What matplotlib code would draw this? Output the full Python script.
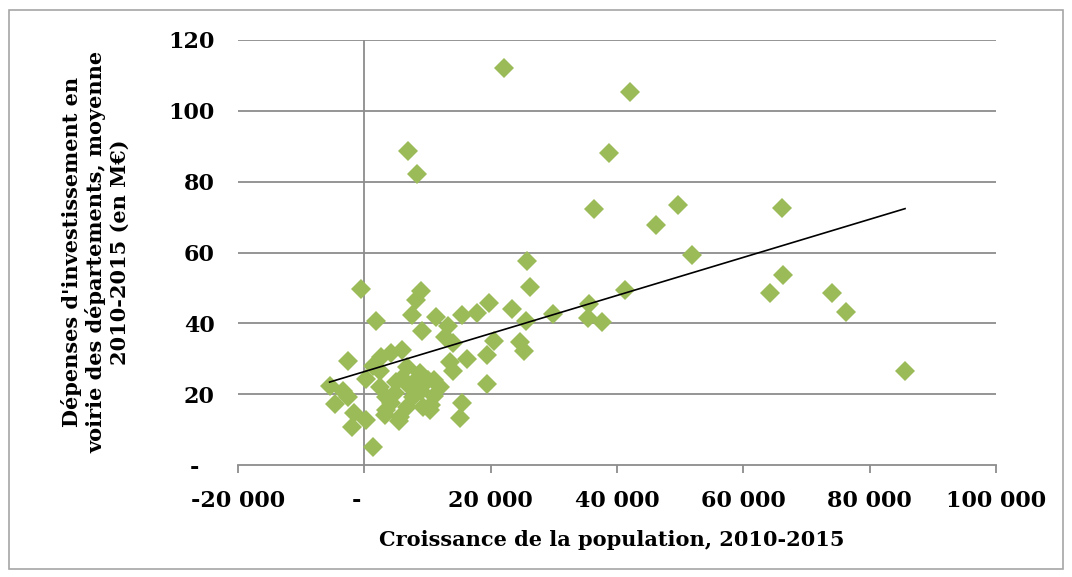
import numpy as np
import matplotlib

matplotlib.use("Agg")
import matplotlib.pyplot as plt
from matplotlib.patches import Rectangle

# population growth 2010-2015 (thousands) and road investment (M EUR)
pop_growth_k = [
    22.1, 42.0, 38.8, 6.9, 8.4, 36.3, 49.7, 46.1, 66.2, 51.9,
    66.3, 64.2, 74.1, 76.2, 85.6, 25.8, 26.3, 19.7, 23.3, 29.8,
    35.6, 41.3, 25.6, 35.4, 37.7, 20.6, 24.7, 25.3, 19.4, 19.4,
    17.9, -0.5, 1.8, -2.6, 9.0, 8.2, 7.5, 11.4, 15.4, 13.3,
    9.2, 12.7, 14.0, 16.3, 13.5, 14.0, 15.4, 15.1, -5.5, -3.3,
    -4.7, -2.6, -1.7, 0.2, -2.0, 1.4, 0.3, 2.7, 4.3, 5.9,
    1.4, 3.5, 5.6, 7.2, 8.8, 11.1, 11.1, 9.3, 10.4, 3.5,
    6.7, 4.8, 7.7, 8.2, 6.7, 10.1, 10.6, 4.3, 3.2, 5.5,
    6.0, 2.5, 12.0, 9.0, 5.0, 2.5,
]
invest = [
    112.2, 105.3, 88.2, 88.7, 82.2, 72.2, 73.3, 67.8, 72.5, 59.3,
    53.6, 48.6, 48.5, 43.3, 26.5, 57.7, 50.3, 45.8, 44.0, 42.5,
    45.6, 49.4, 40.7, 41.4, 40.5, 35.0, 34.6, 32.2, 31.0, 22.9,
    42.9, 49.7, 40.6, 29.4, 49.0, 46.7, 42.3, 41.9, 42.3, 39.3,
    37.8, 36.2, 34.5, 29.8, 29.0, 26.5, 17.6, 13.3, 22.3, 20.8,
    17.1, 19.3, 14.6, 12.7, 10.8, 5.0, 24.2, 30.6, 31.5, 32.5,
    28.0, 19.3, 13.6, 22.1, 25.9, 24.0, 19.5, 16.5, 15.5, 15.5,
    16.5, 20.2, 19.3, 24.0, 27.8, 24.0, 17.0, 17.4, 14.1, 12.5,
    24.5, 26.5, 22.0, 21.0, 23.5, 22.0,
]

x_ticks = [-20000, 0, 20000, 40000, 60000, 80000, 100000]
x_labels = ["-20 000", "-  ", "20 000", "40 000", "60 000", "80 000", "100 000"]
y_ticks = [0, 20, 40, 60, 80, 100, 120]
y_labels = ["-  ", "20", "40", "60", "80", "100", "120"]

x = np.array(pop_growth_k) * 1000
y = np.array(invest)

W, H = 1072, 577
fig = plt.figure(figsize=(W / 100, H / 100), dpi=100)
ax = fig.add_axes([238 / W, 1 - 465 / H, (996 - 238) / W, (465 - 40) / H])

grid_c = "#8c8c8c"
green = "#9bbb59"

for v in y_ticks[1:]:
    ax.axhline(v, color=grid_c, lw=1.3, zorder=1)
ax.axvline(0, color=grid_c, lw=1.3, zorder=1)

ax.plot(x, y, linestyle="none", marker="D", markersize=10,
        markerfacecolor=green, markeredgewidth=0, zorder=3)

# linear trend line
slope, inter = np.polyfit(x, y, 1)
xs = np.array([x.min(), x.max()])
ax.plot(xs, slope * xs + inter, color="black", lw=1.2, zorder=4)

ax.set_xlim(-20000, 100000)
ax.set_ylim(0, 120)

for s in ["top", "right", "left"]:
    ax.spines[s].set_visible(False)
ax.spines["bottom"].set_color(grid_c)
ax.spines["bottom"].set_linewidth(1.3)

tick_font = dict(family="DejaVu Serif", weight="bold", size=16)
ax.set_xticks(x_ticks)
ax.set_xticklabels(x_labels, **tick_font)
ax.set_yticks(y_ticks)
ax.set_yticklabels(y_labels, **tick_font)
ax.tick_params(axis="x", direction="out", length=6, width=1.3, color=grid_c, pad=12)
ax.tick_params(axis="y", length=0, pad=17)

title_font = dict(family="DejaVu Serif", weight="bold", size=15)
fig.text(612 / W, 1 - 540 / H, "Croissance de la population, 2010-2015",
         ha="center", va="center", **title_font)
fig.text(95 / W, 1 - 252 / H,
         "Dépenses d'investissement en\nvoirie des départements, moyenne\n2010-2015 (en M€)",
         ha="center", va="center", rotation=90, linespacing=1.2, **title_font)

fig.patches.append(Rectangle((9 / W, 1 - 569 / H), (1063 - 9) / W, (569 - 10) / H,
                             transform=fig.transFigure, fill=False,
                             edgecolor="#a6a6a6", lw=1.2))

fig.savefig("out.png", dpi=100)
